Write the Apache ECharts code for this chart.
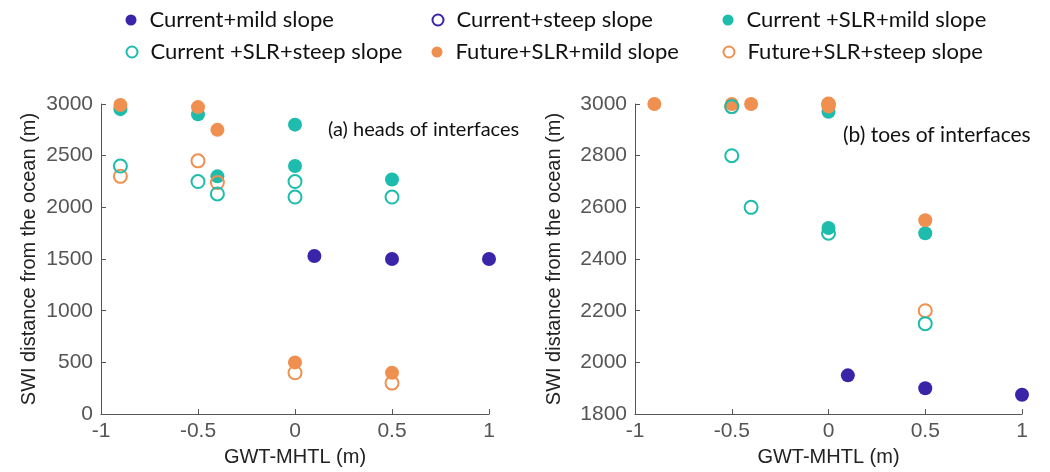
<!DOCTYPE html>
<html>
<head>
<meta charset="utf-8">
<script src="https://cdn.jsdelivr.net/npm/echarts@6/dist/echarts.min.js"></script>
<style>
  html, body { margin: 0; padding: 0; background: #fff; }
  #chart { width: 1050px; height: 472px; }
</style>
</head>
<body>
<div id="chart"></div>
<script>
// series names
const seriesNames = ['Current+mild slope', 'Current+steep slope', 'Current +SLR+mild slope',
  'Current +SLR+steep slope', 'Future+SLR+mild slope', 'Future+SLR+steep slope']

// (a) heads of interfaces
const aCurMildX = [0.1, 0.5, 1]
const aCurMildY = [1530, 1500, 1500]
const aCurSteepX = []
const aCurSteepY = []
const aSlrMildX = [-0.9, -0.5, -0.4, 0, 0, 0.5]
const aSlrMildY = [2950, 2900, 2300, 2800, 2400, 2270]
const aSlrSteepX = [-0.9, -0.5, -0.4, 0, 0, 0.5]
const aSlrSteepY = [2400, 2250, 2130, 2250, 2100, 2100]
const aFutMildX = [-0.9, -0.5, -0.4, 0, 0.5]
const aFutMildY = [2990, 2970, 2750, 500, 400]
const aFutSteepX = [-0.9, -0.5, -0.4, 0, 0.5]
const aFutSteepY = [2300, 2450, 2240, 400, 300]

// (b) toes of interfaces
const bCurMildX = [0.1, 0.5, 1]
const bCurMildY = [1950, 1900, 1875]
const bCurSteepX = []
const bCurSteepY = []
const bSlrMildX = [0, 0, 0.5]
const bSlrMildY = [2970, 2520, 2500]
const bSlrSteepX = [-0.5, -0.5, -0.4, 0, 0.5]
const bSlrSteepY = [2990, 2800, 2600, 2500, 2150]
const bFutMildX = [-0.9, -0.5, -0.4, 0, 0, 0.5]
const bFutMildY = [3000, 3000, 3000, 3000, 2990, 2550]
const bFutSteepX = [-0.5, 0, 0.5]
const bFutSteepY = [2990, 3000, 2200]

const purple = '#3a25a8'
const teal = '#1dbcac'
const orange = '#ef9050'
const clear = 'rgba(0,0,0,0)'

function zip(xs, ys) {
  return xs.map((x, i) => [x, ys[i]])
}

// filled / open marker styles, in order of seriesNames
const styles = [
  { color: purple, opacity: 1 },
  { color: clear, borderColor: purple, borderWidth: 2, opacity: 1 },
  { color: teal, opacity: 1 },
  { color: clear, borderColor: teal, borderWidth: 2, opacity: 1 },
  { color: orange, opacity: 1 },
  { color: clear, borderColor: orange, borderWidth: 2, opacity: 1 }
]
const panelA = [zip(aCurMildX, aCurMildY), zip(aCurSteepX, aCurSteepY), zip(aSlrMildX, aSlrMildY),
  zip(aSlrSteepX, aSlrSteepY), zip(aFutMildX, aFutMildY), zip(aFutSteepX, aFutSteepY)]
const panelB = [zip(bCurMildX, bCurMildY), zip(bCurSteepX, bCurSteepY), zip(bSlrMildX, bSlrMildY),
  zip(bSlrSteepX, bSlrSteepY), zip(bFutMildX, bFutMildY), zip(bFutSteepX, bFutSteepY)]
// drawing order: teal filled, orange filled, orange open, teal open on top
const drawOrder = [0, 1, 2, 4, 5, 3]

const series = []
;[panelA, panelB].forEach((panel, p) => {
  drawOrder.forEach((k) => {
    series.push({
      name: seriesNames[k],
      type: 'scatter',
      xAxisIndex: p,
      yAxisIndex: p,
      symbol: 'circle',
      symbolSize: styles[k].borderWidth ? 13 : 14,
      itemStyle: styles[k],
      emphasis: { disabled: true },
      data: panel[k]
    })
  })
})

// legend placement: icon centre x, row
const legendPos = [[131, 0], [437, 0], [728, 0], [131, 1], [437, 1], [728, 1]]
const legends = legendPos.map((pos, i) => ({
  data: [seriesNames[i]],
  left: pos[0] - 5.5,
  top: 9 + pos[1] * 32,
  padding: 0,
  icon: 'circle',
  itemWidth: 11,
  itemHeight: 11,
  textStyle: { fontFamily: 'Lato', fontSize: 22, color: '#111', padding: [0, 0, 0, 8] }
}))

const tickLabel = { fontFamily: 'Liberation Sans', fontSize: 21, color: '#555', formatter: (v) => String(v) }
const axisLine = { show: true, onZero: false, lineStyle: { color: '#555', width: 1 } }
const axisTick = { show: true, inside: true, length: 5, lineStyle: { color: '#555' } }
const nameStyle = { fontFamily: 'Liberation Sans', fontSize: 20, color: '#222' }

function xAxis(idx) {
  return {
    type: 'value',
    gridIndex: idx,
    min: -1,
    max: 1,
    interval: 0.5,
    name: 'GWT-MHTL (m)',
    nameLocation: 'middle',
    nameGap: 32,
    nameTextStyle: nameStyle,
    axisLine: axisLine,
    axisTick: axisTick,
    splitLine: { show: false },
    axisLabel: Object.assign({ margin: 7 }, tickLabel)
  }
}
function yAxis(idx, min, interval, gap) {
  return {
    type: 'value',
    gridIndex: idx,
    min: min,
    max: 3000,
    interval: interval,
    name: 'SWI distance from the ocean (m)',
    nameLocation: 'middle',
    nameGap: gap,
    nameTextStyle: nameStyle,
    axisLine: axisLine,
    axisTick: axisTick,
    splitLine: { show: false },
    axisLabel: Object.assign({ margin: 8 }, tickLabel)
  }
}

const option = {
  animation: false,
  legend: legends,
  grid: [
    { left: 101, top: 104, width: 388, height: 312 },
    { left: 635, top: 104, width: 387, height: 313 }
  ],
  xAxis: [xAxis(0), xAxis(1)],
  yAxis: [yAxis(0, 0, 500, 62), yAxis(1, 1800, 200, 71)],
  graphic: [
    { type: 'text', left: 328, top: 120, style: { text: '(a) heads of interfaces', font: '20px Lato', fill: '#111' } },
    { type: 'text', left: 843, top: 125, style: { text: '(b) toes of interfaces', font: '21px Lato', fill: '#111' } }
  ],
  series: series
}

const myChart = echarts.init(document.getElementById('chart'))
myChart.setOption(option)
</script>
</body>
</html>
